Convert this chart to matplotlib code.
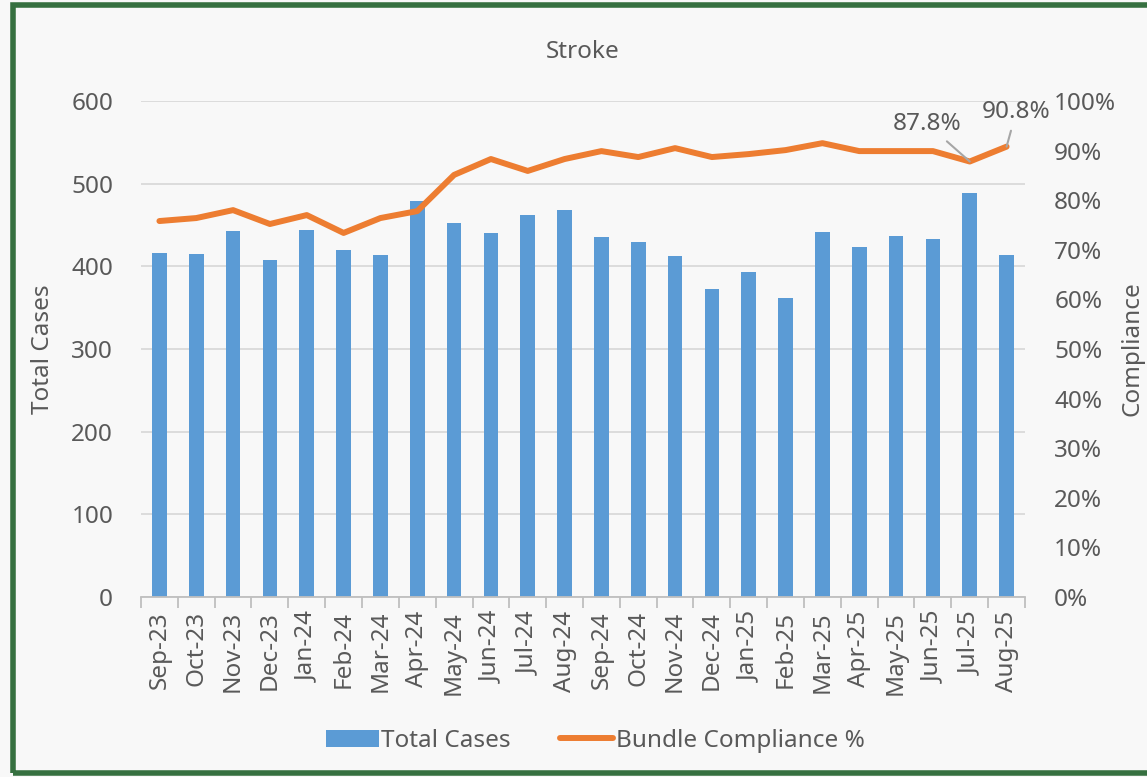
import matplotlib.pyplot as plt
import matplotlib.patches as patches
import numpy as np

plt.rcParams['font.family'] = ['Noto Sans', 'DejaVu Sans']

months = ['Sep-23', 'Oct-23', 'Nov-23', 'Dec-23', 'Jan-24', 'Feb-24', 'Mar-24', 'Apr-24',
          'May-24', 'Jun-24', 'Jul-24', 'Aug-24', 'Sep-24', 'Oct-24', 'Nov-24', 'Dec-24',
          'Jan-25', 'Feb-25', 'Mar-25', 'Apr-25', 'May-25', 'Jun-25', 'Jul-25', 'Aug-25']
total_cases = [416, 415, 443, 408, 444, 420, 414, 479, 452, 440, 462, 468,
               435, 429, 412, 373, 393, 362, 441, 423, 437, 433, 489, 414]
compliance = [75.8, 76.4, 78.0, 75.2, 77.0, 73.4, 76.4, 77.8, 85.1, 88.3, 85.9, 88.3,
              89.9, 88.7, 90.5, 88.7, 89.3, 90.1, 91.5, 89.9, 89.9, 89.9, 87.8, 90.8]
labelled = {22: '87.8%', 23: '90.8%'}

text_col = '#595959'
bg = '#f8f8f8'
fs = 17.5

fig = plt.figure(figsize=(11.47, 7.77), dpi=100, facecolor=bg)
ax = fig.add_axes([141 / 1147, 1 - 597 / 777, 884 / 1147, 496 / 777])
ax.set_facecolor(bg)
ax2 = ax.twinx()

x = np.arange(len(months))
ax.bar(x, total_cases, width=0.4, color='#5B9BD5', label='Total Cases', zorder=2)
ax.set_ylim(0, 600)
ax.set_yticks(range(0, 601, 100))
ax.set_xlim(-0.5, len(months) - 0.5)
ax.grid(axis='y', color='#d9d9d9', linewidth=1.3, zorder=0)
ax.set_axisbelow(True)

# category ticks sit between the bars, like the spreadsheet original
ax.set_xticks(x)
ax.set_xticklabels(months, rotation=90, fontsize=fs, color=text_col)
ax.set_xticks(np.arange(-0.5, len(months), 1), minor=True)
ax.tick_params(axis='x', which='major', length=0, pad=10)
ax.tick_params(axis='x', which='minor', length=8, color='#bfbfbf', width=1.3)
ax.tick_params(axis='y', length=0, labelsize=fs, labelcolor=text_col, pad=20)

for s in ['top', 'right', 'left']:
    ax.spines[s].set_visible(False)
    ax2.spines[s].set_visible(False)
ax.spines['bottom'].set_color('#bfbfbf')
ax.spines['bottom'].set_linewidth(1.3)
ax2.spines['bottom'].set_visible(False)

ax2.plot(x, compliance, color='#ED7D31', linewidth=4.3, label='Bundle Compliance %',
         solid_joinstyle='round', solid_capstyle='round', zorder=3)
ax2.set_ylim(0, 100)
ax2.set_yticks(range(0, 101, 10))
ax2.set_yticklabels([f'{v}%' for v in range(0, 101, 10)])
ax2.tick_params(axis='y', length=0, labelsize=fs, labelcolor=text_col, pad=21)

ax.set_ylabel('Total Cases', fontsize=fs, color=text_col, labelpad=12)
ax2.set_ylabel('Compliance', fontsize=fs, color=text_col, labelpad=3)
ax.set_title('Stroke', fontsize=fs, color=text_col, pad=31)

# data labels with leader lines
offsets = {22: (-1.16, 7.6), 23: (0.26, 7.0)}
for i, txt in labelled.items():
    dx, dy = offsets[i]
    ax2.annotate(txt, xy=(i, compliance[i]), xytext=(i + dx, compliance[i] + dy),
                 fontsize=fs, color=text_col, ha='center', va='center', zorder=4,
                 arrowprops=dict(arrowstyle='-', color='#a6a6a6', lw=1.5,
                                 shrinkA=3, shrinkB=0))

handles1, labels1 = ax.get_legend_handles_labels()
handles2, labels2 = ax2.get_legend_handles_labels()
fig.legend(handles1 + handles2, labels1 + labels2, loc='center', ncol=2,
           bbox_to_anchor=(595 / 1147, 1 - 741 / 777), frameon=False,
           fontsize=fs, labelcolor=text_col, handlelength=2.2, handletextpad=0.1,
           columnspacing=2.0)

# green frame around the chart (runs off the right edge)
fig.patches.append(patches.Rectangle((13 / 1147, 4 / 777), 1.05, 1 - 9 / 777,
                                     transform=fig.transFigure, fill=False,
                                     edgecolor='#367040', linewidth=4))

fig.savefig('out.png', dpi=100, facecolor=bg)
